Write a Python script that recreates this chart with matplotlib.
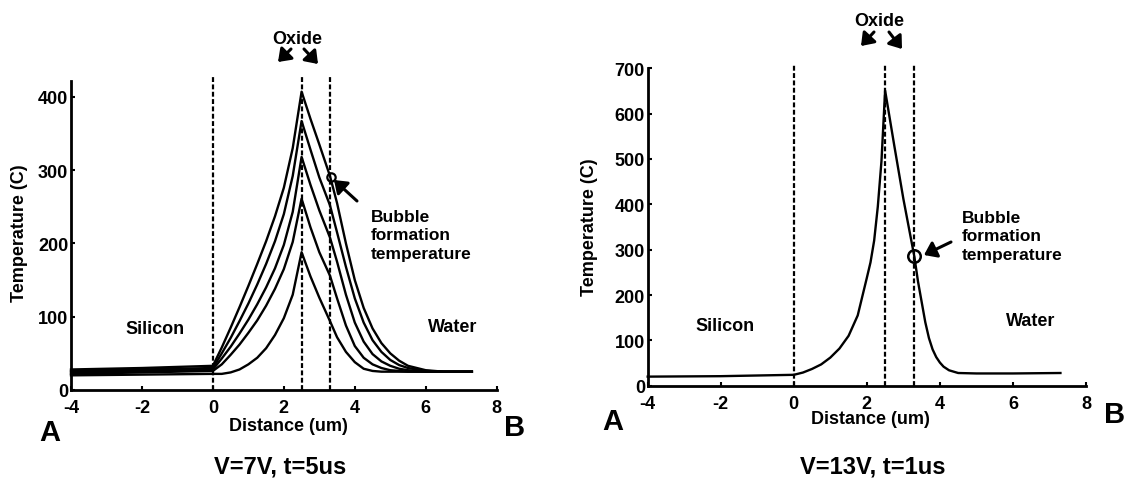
import matplotlib
matplotlib.use('Agg')
import matplotlib.pyplot as plt

plt.rcParams['font.family'] = ['Liberation Sans', 'DejaVu Sans']
plt.rcParams['font.weight'] = 'bold'

W, H = 1132, 481

# ---------------- data ----------------
# Left panel: V=7V, t=5us (five time snapshots)
x_left = [-4, -2, 0, 0.25, 0.5, 0.75, 1.0, 1.25, 1.5, 1.75, 2.0, 2.25, 2.5,
          2.75, 3.0, 3.3, 3.5, 3.75, 4.0, 4.25, 4.5, 4.75, 5.0, 5.25, 5.5, 6.0, 6.5, 7.3]
T_left_1 = [28, 30, 33, 58, 85, 113, 142, 172, 203, 237, 276, 330, 407,
            370, 335, 292, 255, 200, 150, 112, 84, 64, 50, 40, 33, 27, 25, 25]
T_left_2 = [26, 28, 30, 50, 71, 94, 118, 144, 172, 203, 240, 292, 367,
            328, 290, 252, 215, 168, 125, 92, 68, 52, 41, 34, 30, 26, 25, 25]
T_left_3 = [24, 26, 28, 43, 59, 77, 96, 117, 140, 166, 198, 243, 318,
            280, 245, 208, 175, 130, 92, 66, 49, 39, 33, 29, 27, 25, 25, 25]
T_left_4 = [22, 24, 26, 35, 48, 62, 78, 95, 115, 138, 165, 202, 261,
            222, 188, 156, 125, 88, 60, 44, 35, 30, 27, 26, 25, 25, 25, 25]
T_left_5 = [20, 21, 22, 22, 24, 28, 35, 44, 57, 75, 98, 130, 188,
            155, 126, 94, 72, 52, 38, 29, 26, 25, 25, 25, 25, 25, 25, 25]
T_left = [T_left_1, T_left_2, T_left_3, T_left_4, T_left_5]

# Right panel: V=13V, t=1us
x_right = [-4, -2, 0, 0.25, 0.5, 0.75, 1.0, 1.25, 1.5, 1.75, 2.0, 2.1, 2.2, 2.3,
           2.4, 2.5, 2.75, 3.0, 3.3, 3.4, 3.5, 3.6, 3.7, 3.8, 3.9, 4.0, 4.1,
           4.25, 4.5, 5.0, 6.0, 7.3]
T_right = [20, 21, 24, 29, 37, 47, 62, 82, 110, 155, 238, 272, 320, 395,
           495, 651, 530, 412, 285, 230, 185, 140, 105, 80, 63, 51, 42,
           34, 28, 27, 27, 28]

boundaries = [0, 2.5, 3.3]          # Silicon | heater | oxide | water
bubble_left = ([3.32], [290])
bubble_right = ([3.28], [287])

xticks = [-4, -2, 0, 2, 4, 6, 8]
yticks_left = [0, 100, 200, 300, 400]
yticks_right = [0, 100, 200, 300, 400, 500, 600, 700]
titles = ['V=7V, t=5us', 'V=13V, t=1us']
xlabel = 'Distance (um)'
ylabel = 'Temperature (C)'

# ---------------- figure ----------------
fig = plt.figure(figsize=(W / 100, H / 100), dpi=100)


def rect(x0, x1, ytop, ybot):
    return [x0 / W, 1 - ybot / H, (x1 - x0) / W, (ybot - ytop) / H]


def P(x, y):
    return (x, H - y)


def ftext(x, y, s, size=13, ha='center', va='center', **kw):
    fig.text(x / W, 1 - y / H, s, fontsize=size, fontweight='bold',
             ha=ha, va=va, **kw)


def farrow(tail, tip, ms=13):
    fig.add_artist(matplotlib.patches.FancyArrowPatch(
        posA=P(*tail), posB=P(*tip), transform=None,
        arrowstyle='-|>,head_length=0.55,head_width=0.4',
        mutation_scale=ms, lw=2.2, color='black', shrinkA=0, shrinkB=0))


axL = fig.add_axes(rect(71, 496.7, 81.7, 391))
axR = fig.add_axes(rect(647.7, 1086, 69.3, 386.7))


def style(ax, yticks, ylim):
    ax.set_xlim(-4, 8)
    ax.set_ylim(*ylim)
    for s in ['top', 'right']:
        ax.spines[s].set_visible(False)
    for s in ['left', 'bottom']:
        ax.spines[s].set_linewidth(2.0)
    ax.set_xticks(xticks)
    ax.set_xticklabels([str(t) for t in xticks])
    ax.set_yticks(yticks)
    ax.set_yticklabels([str(t) for t in yticks])
    ax.tick_params(axis='both', direction='in', length=3, width=1.5,
                   labelsize=13)
    ax.tick_params(axis='x', pad=6.5)
    ax.tick_params(axis='y', pad=2)
    for lab in ax.get_xticklabels() + ax.get_yticklabels():
        lab.set_fontweight('bold')
    ax.patch.set_alpha(0)


dash = (0, (2.2, 1.1))

# Left panel
style(axL, yticks_left, (0, 422))
for T in T_left:
    axL.plot(x_left, T, color='black', lw=1.7, clip_on=False)
axL.vlines(boundaries, 0, 428, colors='black', linestyles=dash,
           lw=1.6, clip_on=False)
axL.plot(*bubble_left, 'o', ms=6, mfc='none', mec='black', mew=1.6,
         clip_on=False)
axL.set_xlabel(xlabel, fontsize=13, fontweight='bold')
axL.xaxis.set_label_coords((288 - 71) / 425.7, (391 - 427) / 309.3)
axL.xaxis.label.set_va('center')
axL.set_ylabel(ylabel, fontsize=13, fontweight='bold')
axL.yaxis.set_label_coords((20 - 71) / 425.7, (391 - 233) / 309.3)
axL.yaxis.label.set_va('center')

# Right panel
style(axR, yticks_right, (0, 700))
axR.plot(x_right, T_right, color='black', lw=1.7, clip_on=False)
axR.vlines(boundaries, 0, 710, colors='black', linestyles=dash,
           lw=1.6, clip_on=False)
axR.plot(*bubble_right, 'o', ms=9, mfc='none', mec='black', mew=1.8,
         clip_on=False)
axR.set_xlabel(xlabel, fontsize=13, fontweight='bold')
axR.xaxis.set_label_coords((870 - 647.7) / 438.3, (386.7 - 420) / 317.4)
axR.xaxis.label.set_va('center')
axR.set_ylabel(ylabel, fontsize=13, fontweight='bold')
axR.yaxis.set_label_coords((590 - 647.7) / 438.3, (386.7 - 227) / 317.4)
axR.yaxis.label.set_va('center')

# ---------------- annotations ----------------
# left
ftext(297, 40, 'Oxide')
farrow((291, 50), (278, 63))
farrow((304, 50), (318, 65))
ftext(155, 330, 'Silicon')
ftext(453, 328, 'Water')
ftext(371, 236, 'Bubble\nformation\ntemperature', size=12.5, ha='left',
      linespacing=1.3)
farrow((357, 202), (334, 181))
ftext(50, 433, 'A', size=21)
ftext(515, 428, 'B', size=21)
ftext(280, 467, titles[0], size=17)

# right
ftext(879, 22, 'Oxide')
farrow((874, 33), (861, 47))
farrow((889, 33), (902, 50))
ftext(725, 327, 'Silicon')
ftext(1031, 322, 'Water')
ftext(962, 237, 'Bubble\nformation\ntemperature', size=12.5, ha='left',
      linespacing=1.3)
farrow((951, 243), (924, 256))
ftext(613, 422, 'A', size=21)
ftext(1115, 415, 'B', size=21)
ftext(873, 467, titles[1], size=17)

fig.savefig('out.png', dpi=100)
